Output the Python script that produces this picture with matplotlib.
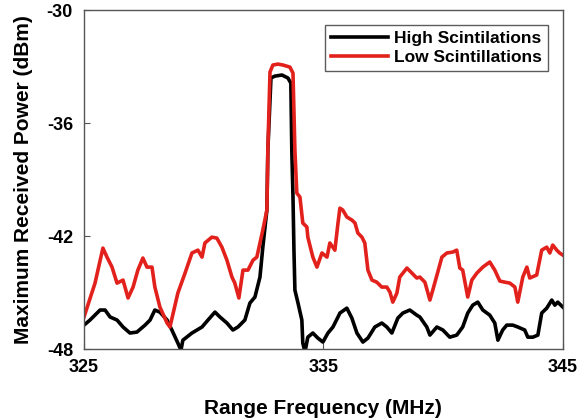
import matplotlib
matplotlib.use("Agg")
import matplotlib.pyplot as plt

plt.rcParams['font.family'] = ['Liberation Sans', 'DejaVu Sans']
plt.rcParams['axes.unicode_minus'] = False

# Low scintillations (red)
low_freq = [325.0, 325.46, 325.79, 325.96, 326.17, 326.38, 326.63, 326.84, 327.05, 327.25,
            327.46, 327.63, 327.84, 327.96, 328.17, 328.47, 328.59, 328.92, 329.22, 329.51,
            329.76, 329.93, 330.05, 330.34, 330.55, 330.76, 330.97, 331.18, 331.30, 331.47,
            331.64, 331.85, 332.06, 332.22, 332.47, 332.64, 332.68, 332.77, 332.89, 333.10,
            333.31, 333.60, 333.73, 333.81, 333.89, 334.02, 334.14, 334.31, 334.35, 334.56,
            334.73, 334.94, 335.15, 335.27, 335.48, 335.61, 335.69, 335.81, 335.98, 336.19,
            336.32, 336.44, 336.61, 336.73, 336.86, 337.03, 337.23, 337.44, 337.65, 337.78,
            337.90, 338.07, 338.19, 338.49, 338.70, 338.90, 339.03, 339.24, 339.45, 339.57,
            339.78, 339.95, 340.16, 340.41, 340.57, 340.70, 340.82, 341.03, 341.20, 341.41,
            341.66, 341.95, 342.16, 342.37, 342.58, 342.79, 343.00, 343.12, 343.33, 343.50,
            343.62, 343.91, 344.12, 344.33, 344.46, 344.58, 344.75, 344.87, 345.0]
low_power = [-46.30, -44.50, -42.64, -43.12, -43.65, -44.50, -44.34, -45.29, -44.71, -43.81,
             -43.17, -43.65, -43.65, -44.71, -45.77, -46.62, -46.83, -45.03, -43.97, -42.90,
             -42.75, -43.12, -42.37, -42.06, -42.11, -42.59, -43.28, -44.18, -44.50, -45.29,
             -43.81, -43.81, -43.28, -43.12, -41.68, -40.62, -37.43, -33.29, -32.92, -32.87,
             -32.92, -33.03, -33.35, -37.43, -39.72, -39.93, -41.31, -41.52, -42.06, -43.12,
             -43.65, -42.90, -43.12, -42.37, -42.75, -41.31, -40.52, -40.62, -40.99, -41.15,
             -41.31, -41.84, -42.06, -42.37, -43.81, -44.34, -44.45, -44.71, -44.71, -44.98,
             -45.51, -45.03, -44.18, -43.70, -43.97, -44.23, -44.18, -44.45, -45.40, -44.87,
             -43.91, -43.12, -42.90, -42.85, -42.75, -43.70, -43.81, -45.24, -44.34, -43.97,
             -43.65, -43.38, -43.81, -44.39, -44.45, -44.50, -44.71, -45.51, -44.18, -43.65,
             -44.23, -44.07, -42.75, -42.59, -42.90, -42.48, -42.75, -42.90, -43.01]

# High scintillations (black)
high_freq = [325.0, 325.25, 325.67, 325.88, 326.09, 326.38, 326.63, 326.92, 327.21, 327.55,
             327.76, 327.96, 328.17, 328.47, 328.67, 328.92, 329.05, 329.13, 329.51, 329.93,
             330.18, 330.47, 330.68, 330.97, 331.22, 331.43, 331.72, 331.93, 332.14, 332.35,
             332.47, 332.64, 332.68, 332.81, 332.97, 333.27, 333.52, 333.64, 333.68, 333.73,
             333.77, 333.81, 333.94, 334.10, 334.14, 334.23, 334.35, 334.56, 334.77, 334.98,
             335.19, 335.40, 335.61, 335.69, 335.98, 336.19, 336.40, 336.65, 336.86, 337.15,
             337.44, 337.65, 337.86, 338.11, 338.32, 338.61, 338.90, 339.03, 339.32, 339.45,
             339.74, 339.99, 340.28, 340.57, 340.82, 341.03, 341.24, 341.45, 341.66, 341.95,
             342.16, 342.29, 342.49, 342.66, 342.91, 343.12, 343.41, 343.54, 343.75, 343.96,
             344.12, 344.33, 344.54, 344.67, 344.79, 345.0]
high_power = [-46.73, -46.46, -45.93, -45.93, -46.30, -46.46, -46.83, -47.15, -47.10, -46.73,
              -46.46, -45.93, -46.04, -46.46, -46.99, -47.68, -48.06, -47.53, -47.15, -46.83,
              -46.46, -46.04, -46.30, -46.62, -46.99, -46.83, -46.46, -45.56, -45.24, -44.18,
              -42.59, -40.62, -37.43, -33.61, -33.51, -33.45, -33.61, -33.88, -37.43, -39.93,
              -42.75, -44.87, -45.56, -46.46, -47.68, -48.16, -47.37, -47.15, -47.42, -47.63,
              -47.15, -46.83, -46.30, -46.09, -45.83, -46.36, -47.15, -47.63, -47.42, -46.83,
              -46.62, -46.83, -47.15, -46.36, -46.09, -45.93, -46.20, -46.30, -46.83, -47.26,
              -46.83, -46.99, -47.37, -47.26, -46.83, -46.09, -45.67, -45.51, -45.93, -46.20,
              -46.62, -47.53, -46.99, -46.73, -46.73, -46.83, -46.99, -47.37, -47.37, -47.26,
              -46.09, -45.83, -45.40, -45.67, -45.51, -45.77]

x_ticks = [325, 335, 345]
y_ticks = [-48, -42, -36, -30]

fig = plt.figure(figsize=(5.85, 4.18), dpi=100)
ax = fig.add_axes([0.1436, 0.165, 0.8184, 0.811])

ax.plot(high_freq, high_power, color='black', lw=2.6, label='High Scintilations')
ax.plot(low_freq, low_power, color='#e3211c', lw=2.6, label='Low Scintillations')

ax.set_xlim(325, 345)
ax.set_ylim(-48, -30)
ax.set_xticks(x_ticks)
ax.set_yticks(y_ticks)
ax.tick_params(direction='in', length=4, width=0.8, color='#555555',
               labelsize=13)
ax.tick_params(axis='x', pad=7)
ax.tick_params(axis='y', pad=8)
for lab in ax.get_xticklabels() + ax.get_yticklabels():
    lab.set_fontweight('bold')
for s in ax.spines.values():
    s.set_color('#555555')
    s.set_linewidth(1.0)

ax.set_xlabel('Range Frequency (MHz)', fontsize=15, fontweight='bold', labelpad=17)
ax.set_ylabel('Maximum Received Power (dBm)', fontsize=15, fontweight='bold', labelpad=10)

leg = ax.legend(loc='upper right', prop={'weight': 'bold', 'size': 12.5},
                frameon=True, fancybox=False, edgecolor='#333333',
                borderaxespad=0.85, handlelength=3.3, handletextpad=0.35,
                labelspacing=0.2, borderpad=0.35)
leg.get_frame().set_linewidth(1.0)

fig.savefig('out.png', dpi=100)
